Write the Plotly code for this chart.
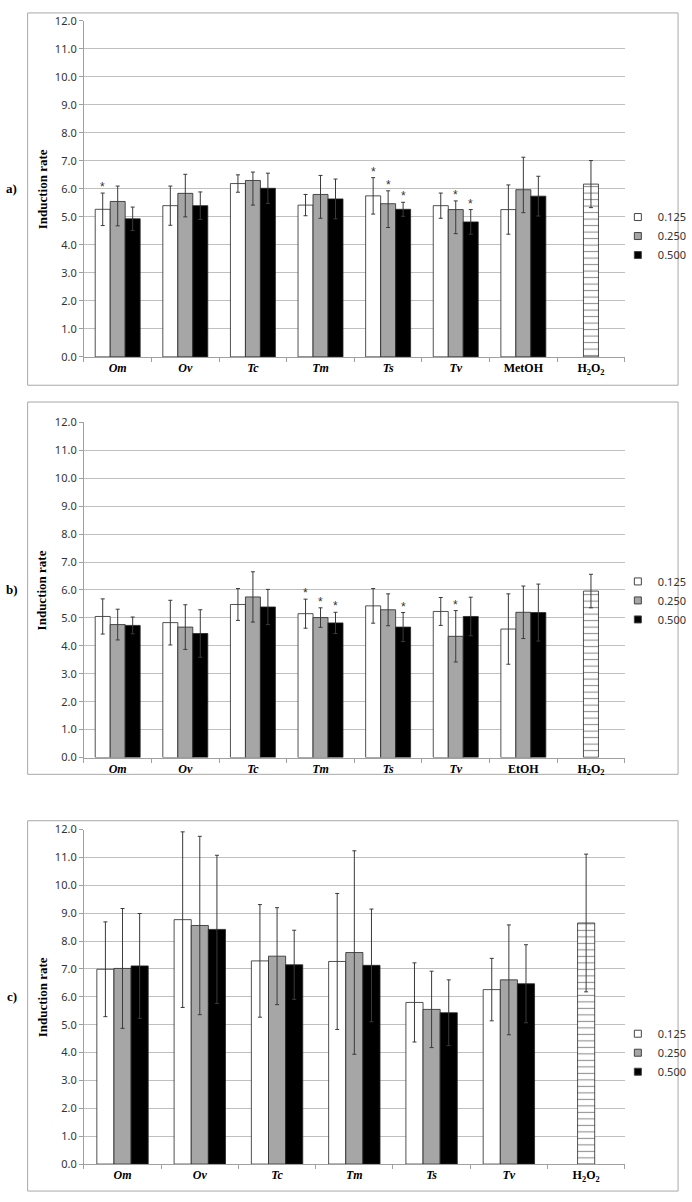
import plotly.graph_objects as go

# ---------------- data ----------------
doses = ["0.125", "0.250", "0.500"]

cats_a = ["Om", "Ov", "Tc", "Tm", "Ts", "Tv", "MetOH", "H2O2"]
a_125 = [5.27, 5.40, 6.19, 5.42, 5.75, 5.40, 5.26]
a_125_err = [0.58, 0.70, 0.31, 0.38, 0.65, 0.45, 0.88]
a_250 = [5.55, 5.84, 6.30, 5.80, 5.47, 5.26, 5.97]
a_250_up = [0.55, 0.68, 0.30, 0.68, 0.46, 0.31, 1.16]
a_250_dn = [0.87, 0.84, 0.88, 0.85, 0.85, 0.86, 0.82]
a_500 = [4.93, 5.40, 6.02, 5.64, 5.27, 4.82, 5.74]
a_500_err = [0.42, 0.49, 0.54, 0.71, 0.25, 0.44, 0.71]
a_h2o2 = 6.17
a_h2o2_err = 0.84
a_stars = [("Om", 0), ("Ts", 0), ("Ts", 1), ("Ts", 2), ("Tv", 1), ("Tv", 2)]

cats_b = ["Om", "Ov", "Tc", "Tm", "Ts", "Tv", "EtOH", "H2O2"]
b_125 = [5.05, 4.83, 5.48, 5.15, 5.43, 5.23, 4.60]
b_125_err = [0.63, 0.80, 0.57, 0.52, 0.62, 0.50, 1.26]
b_250 = [4.76, 4.67, 5.75, 5.01, 5.29, 4.34, 5.20]
b_250_err = [0.55, 0.80, 0.90, 0.35, 0.57, 0.92, 0.94]
b_500 = [4.73, 4.44, 5.39, 4.82, 4.67, 5.05, 5.19]
b_500_err = [0.30, 0.85, 0.63, 0.38, 0.52, 0.69, 1.02]
b_h2o2 = 5.96
b_h2o2_err = 0.60
b_stars = [("Tm", 0), ("Tm", 1), ("Tm", 2), ("Ts", 2), ("Tv", 1)]

cats_c = ["Om", "Ov", "Tc", "Tm", "Ts", "Tv", "H2O2"]
c_125 = [6.99, 8.77, 7.29, 7.27, 5.80, 6.26]
c_125_err = [1.70, 3.15, 2.02, 2.44, 1.42, 1.12]
c_250 = [7.02, 8.56, 7.46, 7.59, 5.55, 6.61]
c_250_err = [2.15, 3.20, 1.74, 3.65, 1.37, 1.97]
c_500 = [7.11, 8.42, 7.15, 7.13, 5.43, 6.47]
c_500_err = [1.88, 2.66, 1.24, 2.02, 1.18, 1.40]
c_h2o2 = 8.65
c_h2o2_err = 2.47
c_stars = []

tick_labels = {
    "Om": "<b><i>Om</i></b>", "Ov": "<b><i>Ov</i></b>", "Tc": "<b><i>Tc</i></b>",
    "Tm": "<b><i>Tm</i></b>", "Ts": "<b><i>Ts</i></b>", "Tv": "<b><i>Tv</i></b>",
    "MetOH": "<b>MetOH</b>", "EtOH": "<b>EtOH</b>",
    "H2O2": "<b>H<sub>2</sub>O<sub>2</sub></b>",
}
y_ticks = [i * 1.0 for i in range(13)]

# ---------------- styling ----------------
W, H = 692, 1202
colors = ["#ffffff", "#a6a6a6", "#000000"]
BARGAP = 0.335
barw = (1 - BARGAP) / 3
ERRC = "#3a3a3a"
GRID = "#c0c0c0"
AXC = "#a0a0a0"
TXT = "#333333"

def px_x(x):
    return x / W

def px_y(y):
    return 1 - y / H

panels = [
    dict(cats=cats_a, vals=[a_125, a_250, a_500],
         up=[a_125_err, a_250_up, a_500_err], dn=[a_125_err, a_250_dn, a_500_err],
         h2=a_h2o2, h2e=a_h2o2_err, stars=a_stars, top=13.0, bot=353.3,
         box=(28, 5, 687, 382), label="a)", legy=197),
    dict(cats=cats_b, vals=[b_125, b_250, b_500],
         up=[b_125_err, b_250_err, b_500_err], dn=[b_125_err, b_250_err, b_500_err],
         h2=b_h2o2, h2e=b_h2o2_err, stars=b_stars, top=419.6, bot=759.0,
         box=(28, 399, 687, 776), label="b)", legy=566),
    dict(cats=cats_c, vals=[c_125, c_250, c_500],
         up=[c_125_err, c_250_err, c_500_err], dn=[c_125_err, c_250_err, c_500_err],
         h2=c_h2o2, h2e=c_h2o2_err, stars=c_stars, top=832.0, bot=1170.7,
         box=(28, 823, 687, 1198), label="c)", legy=1024),
]

fig = go.Figure()
annotations = []
shapes = []
layout = {}

for p_i, P in enumerate(panels):
    n = p_i + 1
    xa = "x" if n == 1 else f"x{n}"
    ya = "y" if n == 1 else f"y{n}"
    leg = "legend" if n == 1 else f"legend{n}"
    cats = P["cats"]
    for k in range(3):
        fig.add_trace(go.Bar(
            x=cats[:-1], y=P["vals"][k], xaxis=xa, yaxis=ya,
            offsetgroup=str(k), showlegend=False,
            marker=dict(color=colors[k], line=dict(color="#262626", width=0.8)),
            error_y=dict(type="data", symmetric=False, array=P["up"][k],
                         arrayminus=P["dn"][k], color=ERRC, thickness=1, width=2),
        ))
    fig.add_trace(go.Bar(
        x=[cats[-1]], y=[P["h2"]], xaxis=xa, yaxis=ya, offsetgroup="1",
        showlegend=False,
        marker=dict(color="white", line=dict(color="#262626", width=0.8),
                    pattern=dict(shape="-", fgcolor="#222222", bgcolor="white",
                                 size=6.5, solidity=0.17)),
        error_y=dict(type="data", array=[P["h2e"]], color=ERRC, thickness=1, width=2),
    ))
    # legend entries
    for k in range(3):
        fig.add_trace(go.Scatter(
            x=[None], y=[None], xaxis=xa, yaxis=ya, mode="markers", name=doses[k],
            legend=leg,
            marker=dict(symbol="square", size=7, color=colors[k],
                        line=dict(color="#444444", width=1)),
        ))

    ydom = [px_y(P["bot"]), px_y(P["top"])]
    layout[f"xaxis{'' if n == 1 else n}"] = dict(
        domain=[px_x(85), px_x(633)], anchor=ya, type="category",
        categoryorder="array", categoryarray=cats,
        tickvals=cats, ticktext=[tick_labels[c] for c in cats],
        tickson="boundaries", ticks="outside", ticklen=4, tickcolor=AXC,
        showline=True, linecolor=AXC, linewidth=1, showgrid=False,
        tickfont=dict(family="Liberation Serif", size=12, color="black"),
        fixedrange=True,
    )
    layout[f"yaxis{'' if n == 1 else n}"] = dict(
        domain=ydom, anchor=xa, range=[0, 12], tickvals=y_ticks,
        tickformat=".1f", ticks="outside", ticklen=4, tickcolor=AXC,
        showline=True, linecolor=AXC, linewidth=1,
        showgrid=True, gridcolor=GRID, gridwidth=1, zeroline=False,
        tickfont=dict(family="Noto Sans", size=11, color=TXT),
        fixedrange=True,
    )
    layout[leg] = dict(
        x=px_x(626), xanchor="left", y=px_y(P["legy"]), yanchor="top",
        bgcolor="rgba(0,0,0,0)", borderwidth=0, itemwidth=30,
        font=dict(family="Noto Sans", size=11, color=TXT), tracegroupgap=0,
    )
    # outer box
    x0, y0, x1, y1 = P["box"]
    shapes.append(dict(type="rect", xref="paper", yref="paper",
                       x0=px_x(x0), x1=px_x(x1), y0=px_y(y1), y1=px_y(y0),
                       line=dict(color="#a8a8a8", width=1), layer="below"))
    ymid = (P["top"] + P["bot"]) / 2
    annotations.append(dict(xref="paper", yref="paper", x=px_x(43), y=px_y(ymid),
                            text="<b>Induction rate</b>", textangle=-90,
                            showarrow=False, xanchor="center", yanchor="middle",
                            font=dict(family="Liberation Serif", size=13, color="black")))
    annotations.append(dict(xref="paper", yref="paper", x=px_x(12), y=px_y(ymid),
                            text=f"<b>{P['label']}</b>", showarrow=False,
                            xanchor="center", yanchor="middle",
                            font=dict(family="Liberation Serif", size=13, color="black")))
    # significance asterisks
    for cat, k in P["stars"]:
        idx = cats.index(cat)
        top_v = P["vals"][k][idx] + P["up"][k][idx]
        annotations.append(dict(xref=xa, yref=ya, x=idx + (k - 1) * barw, y=top_v,
                                text="*", showarrow=False, xanchor="center",
                                yanchor="bottom", yshift=-3,
                                font=dict(family="Liberation Sans", size=12, color=TXT)))

fig.update_layout(
    width=W, height=H, margin=dict(l=0, r=0, t=0, b=0),
    paper_bgcolor="white", plot_bgcolor="white",
    barmode="group", bargap=BARGAP, bargroupgap=0,
    annotations=annotations, shapes=shapes, **layout,
)

fig.write_html(
    "out.html",
    config={"displayModeBar": False, "staticPlot": True},
    post_script="document.body.style.margin='0';document.body.style.overflow='hidden';",
)
